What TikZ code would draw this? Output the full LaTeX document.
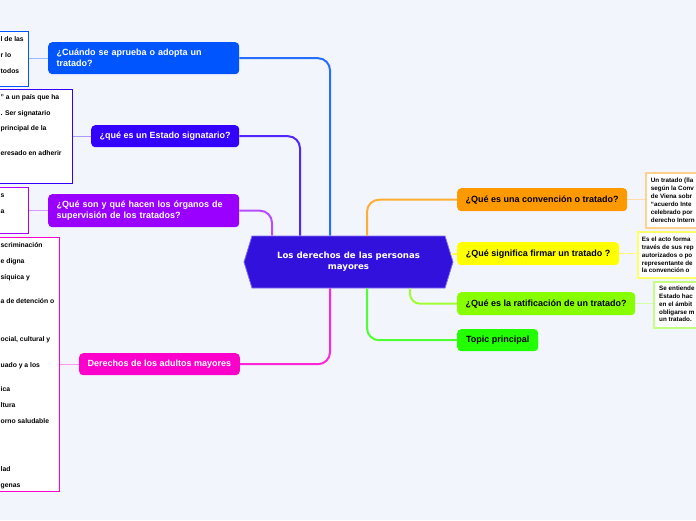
\documentclass[tikz,border=0pt]{standalone}
\usepackage{fontspec}
\setmainfont{Liberation Sans}
\newfontfamily\rootfont{DejaVu Sans}
\usetikzlibrary{shapes.symbols}

\definecolor{bgcol}{HTML}{F3F5FD}
\definecolor{rootcol}{HTML}{3311DD}
\definecolor{bluecol}{HTML}{0055FF}
\definecolor{violcol}{HTML}{3300FF}
\definecolor{purpcol}{HTML}{9900FF}
\definecolor{magcol}{HTML}{FF00CC}
\definecolor{orgcol}{HTML}{FF9900}
\definecolor{yelcol}{HTML}{FFFF00}
\definecolor{limecol}{HTML}{88FF00}
\definecolor{grncol}{HTML}{22FF00}

\begin{document}
\begin{tikzpicture}[x=1pt,y=-1pt]
        \tikzstyle{topic}=[rounded corners=4pt, inner xsep=8.5pt, inner ysep=0pt, align=left, anchor=north west, font=\fontsize{9}{11}\selectfont\bfseries]
        \tikzstyle{ltopic}=[topic, text=white]
        \tikzstyle{rtopic}=[topic, text=black, minimum height=23pt]
        \tikzstyle{lnote}=[draw, line width=1.2pt, fill=white, anchor=north east, minimum width=110pt]
        \tikzstyle{rnote}=[draw, line width=1.8pt, fill=white, anchor=north west, minimum width=110pt]
        \tikzstyle{ltext}=[inner sep=0pt, anchor=base west, align=left, font=\fontsize{6.8}{16}\selectfont\bfseries]
        \tikzstyle{rtext}=[inner sep=0pt, anchor=base west, align=left, font=\fontsize{6.3}{7.8}\selectfont\bfseries]
        \tikzstyle{branch}=[line width=2pt, rounded corners=12pt]
        \tikzstyle{twig}=[line width=1.2pt]
        \useasboundingbox (0,0) rectangle (696,520);
        \clip (0,0) rectangle (696,520);
        \fill[bgcol] (0,0) rectangle (696,520);

        % root
        \node[signal, signal to=west and east, signal pointer angle=146, fill=rootcol, draw=rootcol!60!white, line width=0.8pt,
              minimum width=209pt, minimum height=52pt, inner sep=0pt, text=white, align=center,
              font=\rootfont\bfseries\fontsize{8.6}{11}\selectfont] (root) at (348.5,262) {Los derechos de las personas\\mayores};

        % left topics
        \node[ltopic, fill=bluecol, text width=174pt, minimum height=32pt] (n1) at (48,42) {¿Cuándo se aprueba o adopta un\\tratado?};
        \node[ltopic, fill=violcol, minimum width=148pt, minimum height=22pt] (n2) at (91,125) {¿qué es un Estado signatario?};
        \node[ltopic, fill=purpcol, text width=174pt, minimum height=33pt] (n3) at (48,194) {¿Qué son y qué hacen los órganos de\\supervisión de los tratados?};
        \node[ltopic, fill=magcol, minimum width=160pt, minimum height=22pt] (n4) at (79,353) {Derechos de los adultos mayores};

        % right topics
        \node[rtopic, fill=orgcol, minimum width=170pt] (r1) at (457,188) {¿Qué es una convención o tratado?};
        \node[rtopic, fill=yelcol, minimum width=162pt] (r2) at (457,242) {¿Qué significa firmar un tratado ?};
        \node[rtopic, fill=limecol, minimum width=178pt] (r3) at (457,292) {¿Qué es la ratificación de un tratado?};
        \node[rtopic, fill=grncol, minimum width=81pt, minimum height=22pt] (r4) at (457,329) {Topic principal};

        % branches
        \draw[branch, bluecol!85!white] (n1.east) -| ([xshift=-18.5pt]root.north);
        \draw[branch, violcol!85!white] (n2.east) -| ([xshift=-48.5pt]root.north);
        \draw[branch, purpcol!70!white] (n3.east) -| ([xshift=-76.5pt]root.north);
        \draw[branch, magcol!85!white] (n4.east) -| ([xshift=-18.5pt]root.south);
        \draw[branch, orgcol!80!white] (r1.west) -| ([xshift=18.5pt]root.north);
        \draw[branch, yelcol!60!white] (r2.west) -- ([xshift=-2pt]r2.west -| root.east);
        \draw[branch, limecol!80!white, rounded corners=10pt] (r3.west) -| ([xshift=61.5pt]root.south);
        \draw[branch, grncol!80!white] (r4.west) -| ([xshift=18.5pt]root.south);

        % notes on the left (base anchor = last line)
        \node[lnote, draw=bluecol, minimum height=55pt] (d1) at (29,31) {};
        \node[lnote, draw=violcol, minimum height=94pt] (d2) at (73,89) {};
        \node[lnote, draw=purpcol!80!magcol, minimum height=46pt] (d3) at (29,187) {};
        \node[lnote, draw=magcol, minimum height=254pt] (d4) at (60,237) {};
        \node[ltext] (d1t) at (0.5,73.1) {l de las\\r lo\\todos};
        \node[ltext, font=\fontsize{6.8}{15.5}\selectfont\bfseries] (d2t) at (0.5,155.1) {” a un país que ha\\. Ser signatario\\principal de la\\[8.9pt]eresado en adherir};
        \node[ltext] (d3t) at (0.5,213.1) {s\\a};
        \node[ltext] (d4t) at (0.5,487.1) {scriminación\\e digna\\síquica y\\[8pt]a de detención o\\[22.3pt]ocial, cultural y\\[9.7pt]uado y a los\\[8pt]ica\\ltura\\orno saludable\\[32pt]lad\\genas};

        % notes on the right
        \node[rnote, draw=orgcol!45!white, minimum height=55pt] (e1) at (645,172) {};
        \node[rnote, draw=yelcol!60!white, minimum height=46pt] (e2) at (637,231) {};
        \node[rnote, draw=limecol!50!white, minimum height=46pt] (e3) at (653,281) {};
        \node[rtext, font=\fontsize{6.3}{7.9}\selectfont\bfseries] (e1t) at (650.7,222.3) {Un tratado (lla\\según la Conv\\de Viena sobr\\“acuerdo Inte\\celebrado por\\derecho Intern};
        \node[rtext] (e2t) at (641.7,272.8) {Es el acto forma\\través de sus rep\\autorizados o po\\representante de\\la convención o};
        \node[rtext] (e3t) at (659,321.8) {Se entiende\\Estado hac\\en el ámbit\\obligarse m\\un tratado.};

        % twigs
        \draw[twig, bluecol!40!white] (n1.west) -- (n1.west -| d1.east);
        \draw[twig, violcol!40!white] (n2.west) -- (n2.west -| d2.east);
        \draw[twig, purpcol!40!white] (n3.west) -- (n3.west -| d3.east);
        \draw[twig, magcol!40!white] (n4.west) -- (n4.west -| d4.east);
        \draw[twig, orgcol!35!white] (r1.east) -- (r1.east -| e1.west);
        \draw[twig, yelcol!50!white] (r2.east) -- (r2.east -| e2.west);
        \draw[twig, limecol!35!white] (r3.east) -- (r3.east -| e3.west);
\end{tikzpicture}
\end{document}
